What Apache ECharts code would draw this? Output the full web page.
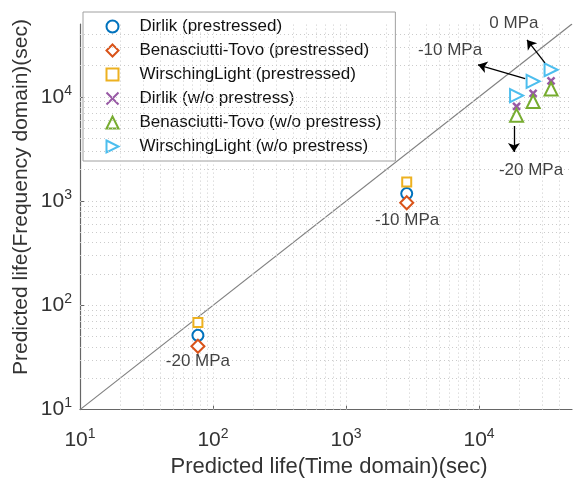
<!DOCTYPE html>
<html><head><meta charset="utf-8">
<script src="https://cdn.jsdelivr.net/npm/echarts@6/dist/echarts.min.js"></script>
<style>html,body{margin:0;padding:0;background:#fff}#c{width:581px;height:483px}</style>
</head><body><div id="c"></div>
<script>
// ---- data ----
const timePre = [77, 2860];
const dirlikPre = [51.6, 1180];
const btPre = [40.5, 964];
const wlPre = [68.5, 1525];
const timeWo = [19150, 25500, 34800];
const dirlikWo = [8110, 10800, 14200];
const btWo = [6650, 9040, 11900];
const wlWo = [10300, 14100, 18200];
const seriesNames = ['Dirlik (prestressed)','Benasciutti-Tovo (prestressed)','WirschingLight (prestressed)',
  'Dirlik (w/o prestress)','Benasciutti-Tovo (w/o prestress)','WirschingLight (w/o prestress)'];
const axisMin = 10, axisMax = 50000;
const gridValues = [20,30,40,50,60,70,80,90,100,200,300,400,500,600,700,800,900,1000,2000,3000,4000,5000,6000,7000,8000,9000,10000,20000,30000,40000];
const annoText = ['0 MPa','-10 MPa','-20 MPa','-10 MPa','-20 MPa'];
const annoX = [18300, 6050, 24600, 2880, 77];
const annoY = [50900, 28200, 1955, 655, 29.3];
const arrowFrom = [[31300, 21200],[22200, 14950],[18300, 5240]];
const arrowTo = [[22950, 35200],[9820, 20300],[18300, 2960]];
const xName = 'Predicted life(Time domain)(sec)';
const yName = 'Predicted life(Frequency domain)(sec)';

const zip = (a,b) => a.map((v,i)=>[v,b[i]]);
const axisFont = "'Liberation Sans Narrow','Liberation Sans',Arial,sans-serif";
const txtFont = "'Liberation Sans',Arial,sans-serif";
function fmt(v){
  const l = Math.log10(v), e = Math.round(l);
  if (Math.abs(l-e) > 1e-6) return '';
  return '{b|10}{s|' + e + '}';
}
const rich = {b:{fontSize:21,color:'#333',fontFamily:axisFont}, s:{fontSize:14,color:'#333',fontFamily:axisFont,padding:[0,0,12,0]}};
function axis(isX){
  return {
    type:'log', logBase:10, min:axisMin, max:axisMax, interval:1,
    name: isX ? xName : '', nameLocation:'middle',
    nameGap: 46,
    nameTextStyle:{fontSize:22,color:'#333',fontFamily:axisFont, padding:[0,0,0,6]},
    axisLine:{show:true,lineStyle:{color:'#666',width:1.2}},
    axisTick:{show:true,inside:true,length:4,lineStyle:{color:'#666'}},
    splitLine:{show:false},
    axisLabel:{formatter:fmt,rich:rich,margin: isX ? 18 : 8, showMaxLabel:false}
  };
}
const mk = (name, x, y, symbol, color, size, rot) => ({
  name, type:'scatter', data: zip(x,y), symbol, symbolSize:size, symbolRotate:rot||0,
  itemStyle:{color:'#fff', borderColor:color, borderWidth:2, opacity:1}, z:5
});
const chart = echarts.init(document.getElementById('c'));
const gridMarks = [];
gridValues.forEach(v=>{ gridMarks.push({xAxis:v}); gridMarks.push({yAxis:v}); });
const legendData = seriesNames.map((n,i)=> i===5 ? {name:n, icon:'path://M0,0L10,5L0,10Z'} : {name:n});
chart.setOption({
  animation:false,
  grid:{left:80,right:9,top:24,bottom:70,containLabel:false},
  xAxis: axis(true),
  yAxis: axis(false),
  graphic:[{type:'text', x:21, y:197, rotation:Math.PI/2,
    style:{text:yName, fontSize:21, fontFamily:axisFont, fill:'#333', textAlign:'center', textVerticalAlign:'middle'}}],
  legend:{
    data: legendData, orient:'vertical', left:83, top:12,
    itemWidth:12, itemHeight:12, itemGap:7, padding:[6,14,6,21],
    backgroundColor:'#fff', borderColor:'#a0a0a0', borderWidth:1,
    textStyle:{fontSize:17,lineHeight:17,color:'#111',fontFamily:txtFont,padding:[0,0,0,16]}, selectedMode:false
  },
  series:[
    {type:'line', data:[[axisMin,axisMin],[axisMax,axisMax]], symbol:'none', silent:true,
     lineStyle:{color:'#808080',width:1.2}, z:3,
     markLine:{silent:true, symbol:'none', label:{show:false}, animation:false,
       lineStyle:{color:'#cbcbcb', type:[1,3], width:1}, data: gridMarks}},
    mk(seriesNames[0], timePre, dirlikPre, 'circle', '#0072BD', 11),
    mk(seriesNames[1], timePre, btPre, 'diamond', '#D95319', 13),
    mk(seriesNames[2], timePre, wlPre, 'rect', '#EDB120', 9),
    Object.assign(mk(seriesNames[3], timeWo, dirlikWo, 'path://M0,0L10,10M10,0L0,10', '#7E2F8E', 7),
      {itemStyle:{color:'none', borderColor:'#7E2F8E', borderWidth:2.5}}),
    mk(seriesNames[4], timeWo, btWo, 'triangle', '#77AC30', 13),
    mk(seriesNames[5], timeWo, wlWo, 'triangle', '#4DBEEE', 13, -90),
    {type:'lines', coordinateSystem:'cartesian2d', silent:true, z:6,
     data: arrowFrom.map((f,i)=>({coords:[f, arrowTo[i]]})),
     symbol:['none','arrow'], symbolSize:9, lineStyle:{color:'#000', width:1.3, opacity:1}},
    {type:'scatter', silent:true, clip:false, symbolSize:1, itemStyle:{color:'transparent'}, z:6,
     data: annoText.map((t,i)=>({name:t, value:[annoX[i], annoY[i]]})),
     label:{show:true, position:'inside', formatter:p=>p.name, fontSize:17, color:'#111', fontFamily:txtFont}}
  ]
});
</script></body></html>
